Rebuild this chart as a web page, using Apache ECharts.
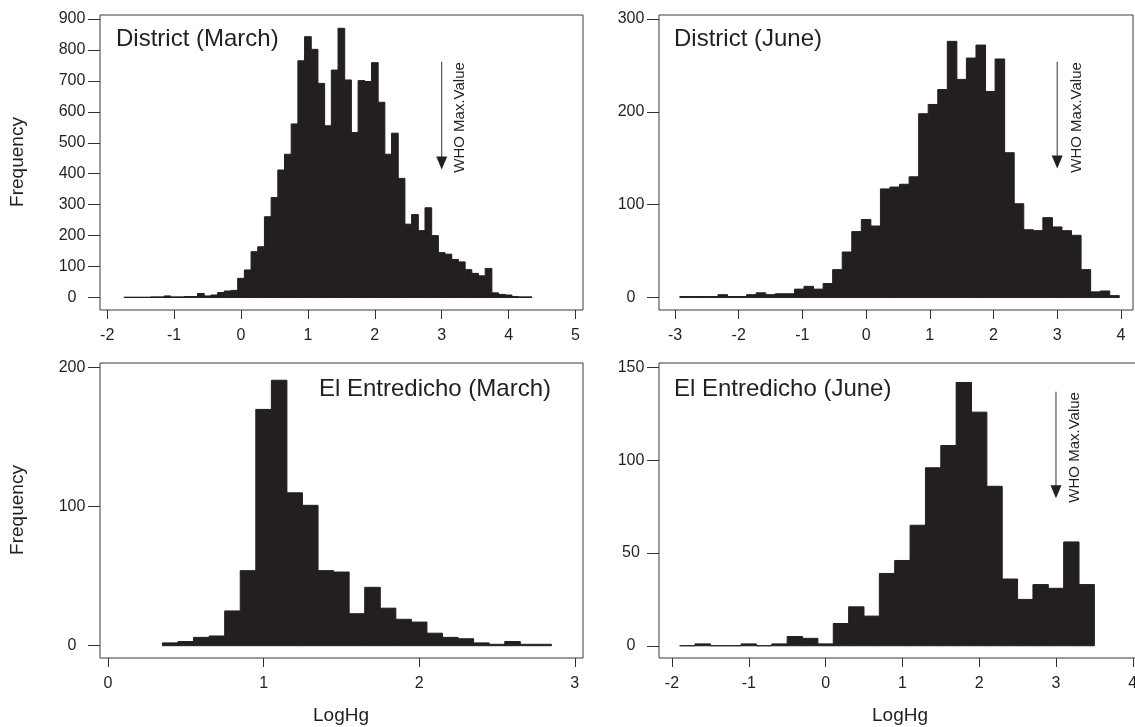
<!DOCTYPE html>
<html>
<head>
<meta charset="utf-8">
<script src="https://cdn.jsdelivr.net/npm/echarts@6/dist/echarts.min.js"></script>
<style>html,body{margin:0;padding:0;background:#fff}#c{width:1135px;height:727px}</style>
</head>
<body>
<div id="c"></div>
<script>
// ---- Panel 1: District (March), bin width 0.1
const districtMarchBins = [-1.7,-1.6,-1.5,-1.4,-1.3,-1.2,-1.1,-1.0,-0.9,-0.8,-0.7,-0.6,-0.5,-0.4,-0.3,-0.2,-0.1,
  0.0,0.1,0.2,0.3,0.4,0.5,0.6,0.7,0.8,0.9,1.0,1.1,1.2,1.3,1.4,1.5,1.6,1.7,1.8,1.9,2.0,2.1,2.2,2.3,2.4,2.5,2.6,2.7,2.8,2.9,
  3.0,3.1,3.2,3.3,3.4,3.5,3.6,3.7,3.8,3.9,4.0,4.1,4.2,4.3];
const districtMarchCounts = [1,1,1,1,2,2,5,2,2,3,3,13,5,8,16,21,23,
  62,89,148,164,261,323,412,463,561,765,843,802,692,555,735,870,703,533,701,698,759,631,463,531,385,237,268,216,290,200,
  145,140,123,115,90,78,70,94,15,10,8,3,2,2];
const districtMarchWidth = 0.1;

// ---- Panel 2: District (June), bin width 0.15
const districtJuneBins = [-2.85,-2.7,-2.55,-2.4,-2.25,-2.1,-1.95,-1.8,-1.65,-1.5,-1.35,-1.2,-1.05,-0.9,-0.75,-0.6,-0.45,-0.3,-0.15,
  0,0.15,0.3,0.45,0.6,0.75,0.9,1.05,1.2,1.35,1.5,1.65,1.8,1.95,2.1,2.25,2.4,2.55,2.7,2.85,3.0,3.15,3.3,3.45,3.6,3.75,3.9];
const districtJuneCounts = [1,1,1,1,3,1,1,3,5,3,4,4,9,12,9,15,30,49,71,
  84,77,117,119,122,130,198,208,224,276,235,258,272,222,257,156,101,73,72,86,76,72,67,30,6,7,2];
const districtJuneWidth = 0.15;

// ---- Panel 3: El Entredicho (March), bin width 0.1
const entMarchBins = [0.4,0.5,0.6,0.7,0.8,0.9,1.0,1.1,1.2,1.3,1.4,1.5,1.6,1.7,1.8,1.9,2.0,2.1,2.2,2.3,2.4,2.5,2.6,2.7,2.8];
const entMarchCounts = [2,3,6,7,25,54,170,191,110,101,54,53,23,42,27,19,17,9,6,5,2,1,3,1,1];
const entMarchWidth = 0.1;

// ---- Panel 4: El Entredicho (June), bin width 0.2
const entJuneBins = [-1.8,-1.6,-1.4,-1.2,-1.0,-0.8,-0.6,-0.4,-0.2,0,0.2,0.4,0.6,0.8,1.0,1.2,1.4,1.6,1.8,2.0,2.2,2.4,2.6,2.8,3.0,3.2,3.4];
const entJuneCounts = [0,1,0,0,1,0,1,5,4,1,12,21,16,39,46,65,96,108,142,126,86,36,25,33,31,56,33];
const entJuneWidth = 0.2;

// ---- Tick labels
const xTicks1 = [-2,-1,0,1,2,3,4,5];
const yTicks1 = [0,100,200,300,400,500,600,700,800,900];
const xTicks2 = [-3,-2,-1,0,1,2,3,4];
const yTicks2 = [0,100,200,300];
const xTicks3 = [0,1,2,3];
const yTicks3 = [0,100,200];
const xTicks4 = [-2,-1,0,1,2,3,4];
const yTicks4 = [0,50,100,150];

// ---- Annotations: WHO max value arrows [x, yStart, yTip, textX, textY]
const whoArrow1 = [[3, 762, 414, 3.27, 582]];
const whoArrow2 = [[3, 254, 139, 3.31, 194]];
const whoArrow4 = [[3, 137, 79.5, 3.25, 107]];

const titles = ['District (March)', 'District (June)', 'El Entredicho (March)', 'El Entredicho (June)'];

const FONT = '"Liberation Sans", Arial, Helvetica, sans-serif';
const INK = '#231f20';

const panels = [
  {left:100, top:15, width:483, height:295, xmin:-2.108, xmax:5.112, ymin:-40.4, ymax:913, xt:xTicks1, yt:yTicks1},
  {left:659, top:15, width:474, height:295, xmin:-3.251, xmax:4.19, ymin:-13.5, ymax:304.4, xt:xTicks2, yt:yTicks2},
  {left:100, top:363, width:483, height:295, xmin:-0.0514, xmax:3.053, ymin:-8.85, ymax:203.4, xt:xTicks3, yt:yTicks3},
  {left:659, top:363, width:483, height:295, xmin:-2.169, xmax:4.12, ymin:-6.6, ymax:152.5, xt:xTicks4, yt:yTicks4}
];

function histSeries(idx, bins, counts, w) {
  return {
    type: 'custom', xAxisIndex: idx, yAxisIndex: idx, clip: true, silent: true,
    data: bins.map((b, i) => [b, counts[i]]),
    renderItem: function (params, api) {
      const c = api.value(0), v = api.value(1);
      const a = api.coord([c - w / 2, v]);
      const b = api.coord([c + w / 2, 0]);
      return {type: 'rect', shape: {x: a[0], y: a[1], width: b[0] - a[0], height: b[1] - a[1]},
        style: {fill: INK, stroke: INK, lineWidth: 1}};
    }
  };
}

function arrowSeries(idx, data) {
  return {
    type: 'custom', xAxisIndex: idx, yAxisIndex: idx, clip: false, silent: true,
    data: data,
    renderItem: function (params, api) {
      const x = api.value(0);
      const p0 = api.coord([x, api.value(1)]);
      const tip = api.coord([x, api.value(2)]);
      const t = api.coord([api.value(3), api.value(4)]);
      const head = 13, hw = 5.5;
      return {type: 'group', children: [
        {type: 'line', shape: {x1: p0[0], y1: p0[1], x2: tip[0], y2: tip[1] - head + 1}, style: {stroke: '#333', lineWidth: 1}},
        {type: 'polygon', shape: {points: [[tip[0] - hw, tip[1] - head], [tip[0] + hw, tip[1] - head], [tip[0], tip[1]]]}, style: {fill: INK}},
        {type: 'text', x: t[0], y: t[1], rotation: Math.PI / 2,
          style: {text: 'WHO Max.Value', fill: INK, fontSize: 15, fontFamily: FONT, align: 'center', verticalAlign: 'middle'}}
      ]};
    }
  };
}

const option = {
  animation: false,
  backgroundColor: '#fff',
  grid: panels.map(p => ({left: p.left, top: p.top, width: p.width, height: p.height, show: true,
    borderColor: '#3a3a3a', borderWidth: 1, backgroundColor: 'transparent', containLabel: false, outerBoundsMode: 'none'})),
  xAxis: panels.map((p, i) => ({
    type: 'value', gridIndex: i, min: p.xmin, max: p.xmax, position: 'bottom',
    axisLine: {show: false, onZero: false}, splitLine: {show: false},
    axisTick: {show: true, customValues: p.xt, length: 9, inside: false, lineStyle: {color: '#333', width: 1}},
    axisLabel: {customValues: p.xt, fontSize: 16, fontFamily: FONT, color: INK, margin: 18}
  })),
  yAxis: panels.map((p, i) => ({
    type: 'value', gridIndex: i, min: p.ymin, max: p.ymax, position: 'left',
    axisLine: {show: false, onZero: false}, splitLine: {show: false},
    axisTick: {show: true, customValues: p.yt, length: 12, inside: false, lineStyle: {color: '#333', width: 1}},
    axisLabel: {customValues: p.yt, fontSize: 16, fontFamily: FONT, color: INK, margin: 28, align: 'center'}
  })),
  series: [
    histSeries(0, districtMarchBins, districtMarchCounts, districtMarchWidth),
    histSeries(1, districtJuneBins, districtJuneCounts, districtJuneWidth),
    histSeries(2, entMarchBins, entMarchCounts, entMarchWidth),
    histSeries(3, entJuneBins, entJuneCounts, entJuneWidth),
    arrowSeries(0, whoArrow1),
    arrowSeries(1, whoArrow2),
    arrowSeries(3, whoArrow4)
  ],
  graphic: [
    {type: 'text', left: 116, top: 27, style: {text: titles[0], fontSize: 24, fontFamily: FONT, fill: INK}},
    {type: 'text', left: 674, top: 27, style: {text: titles[1], fontSize: 24, fontFamily: FONT, fill: INK}},
    {type: 'text', right: 1135 - 551, top: 377, style: {text: titles[2], fontSize: 24, fontFamily: FONT, fill: INK}},
    {type: 'text', left: 674, top: 377, style: {text: titles[3], fontSize: 24, fontFamily: FONT, fill: INK}},
    {type: 'text', x: 18, y: 162, rotation: Math.PI / 2, style: {text: 'Frequency', fontSize: 19, fontFamily: FONT, fill: INK, align: 'center', verticalAlign: 'middle'}},
    {type: 'text', x: 18, y: 510, rotation: Math.PI / 2, style: {text: 'Frequency', fontSize: 19, fontFamily: FONT, fill: INK, align: 'center', verticalAlign: 'middle'}},
    {type: 'text', x: 341, y: 716, style: {text: 'LogHg', fontSize: 19, fontFamily: FONT, fill: INK, align: 'center', verticalAlign: 'middle'}},
    {type: 'text', x: 900, y: 716, style: {text: 'LogHg', fontSize: 19, fontFamily: FONT, fill: INK, align: 'center', verticalAlign: 'middle'}}
  ]
};

const chart = echarts.init(document.getElementById('c'), null, {renderer: 'canvas'});
chart.setOption(option);
</script>
</body>
</html>
